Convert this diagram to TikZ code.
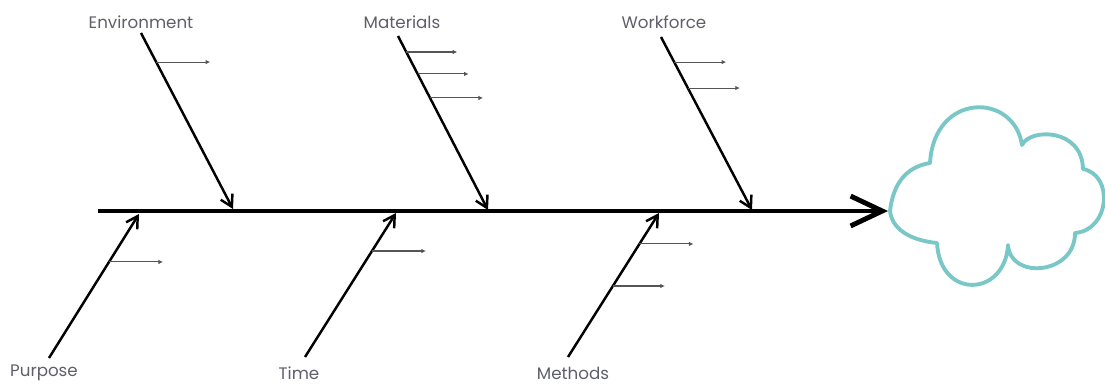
\documentclass[tikz,border=0pt]{standalone}
\usepackage{fontspec}
\setmainfont{Poppins}
\usetikzlibrary{arrows.meta,calc}

\definecolor{cloudteal}{RGB}{122,199,199}
\definecolor{labelgray}{RGB}{95,95,108}
\definecolor{twiggray}{RGB}{85,85,85}

\tikzset{
  spine/.style={line width=2.8pt, -{Straight Barb[length=18pt,width=17pt]}},
  bone/.style={line width=1.4pt, -{Straight Barb[length=6.5pt,width=7.5pt]}},
  twig/.style={line width=0.6pt, draw=twiggray, -{Latex[length=2.6pt,width=2.6pt]}},
  cause/.style={font=\fontsize{9.5}{11}\selectfont, text=labelgray, inner sep=0pt},
  cloudline/.style={line width=2.2pt, draw=cloudteal, line join=round}
}

\begin{document}
\begin{tikzpicture}[x=0.02cm, y=-0.02cm]
\useasboundingbox (0,0) rectangle (1105,383);

% main spine
\coordinate (S0) at (98,211);
\coordinate (S1) at (888,211);
\draw[spine] (S0) -- (S1);

% top causes
\node[cause] (env) at (141,22) {Environment};
\node[cause] (mat) at (402,22) {Materials};
\node[cause] (work) at (664,22) {Workforce};
\coordinate (envT) at (141,33);
\coordinate (envH) at (233,209);
\coordinate (matT) at (398,36);
\coordinate (matH) at (488,210);
\coordinate (workT) at (661,37);
\coordinate (workH) at (752,210);
\draw[bone] (envT) -- (envH);
\draw[bone] (matT) -- (matH);
\draw[bone] (workT) -- (workH);

% bottom causes
\node[cause] (purp) at (44,373) {Purpose};
\node[cause] (time) at (299,373) {Time};
\node[cause] (meth) at (573,373) {Methods};
\coordinate (purpT) at (49,358);
\coordinate (purpH) at (139,214);
\coordinate (timeT) at (305,357);
\coordinate (timeH) at (396,213);
\coordinate (methT) at (568,357);
\coordinate (methH) at (659,213);
\draw[bone] (purpT) -- (purpH);
\draw[bone] (timeT) -- (timeH);
\draw[bone] (methT) -- (methH);

% small branches off the bones
\coordinate (env1) at ($(envT)!0.165!(envH)$);
\coordinate (env1e) at ($(env1)+(54,0)$);
\draw[twig] (env1) -- (env1e);

\coordinate (mat1) at ($(matT)!0.092!(matH)$);
\coordinate (mat1e) at ($(mat1)+(51,0)$);
\coordinate (mat2) at ($(matT)!0.218!(matH)$);
\coordinate (mat2e) at ($(mat2)+(51,0)$);
\coordinate (mat3) at ($(matT)!0.356!(matH)$);
\coordinate (mat3e) at ($(mat3)+(53,0)$);
\draw[twig] (mat1) -- (mat1e);
\draw[twig] (mat2) -- (mat2e);
\draw[twig] (mat3) -- (mat3e);

\coordinate (work1) at ($(workT)!0.145!(workH)$);
\coordinate (work1e) at ($(work1)+(52,0)$);
\coordinate (work2) at ($(workT)!0.295!(workH)$);
\coordinate (work2e) at ($(work2)+(52,0)$);
\draw[twig] (work1) -- (work1e);
\draw[twig] (work2) -- (work2e);

\coordinate (purp1) at ($(purpT)!0.667!(purpH)$);
\coordinate (purp1e) at ($(purp1)+(54,0)$);
\draw[twig] (purp1) -- (purp1e);

\coordinate (time1) at ($(timeT)!0.736!(timeH)$);
\coordinate (time1e) at ($(time1)+(54,0)$);
\draw[twig] (time1) -- (time1e);

\coordinate (meth1) at ($(methT)!0.785!(methH)$);
\coordinate (meth1e) at ($(meth1)+(54,0)$);
\coordinate (meth2) at ($(methT)!0.493!(methH)$);
\coordinate (meth2e) at ($(meth2)+(52,0)$);
\draw[twig] (meth1) -- (meth1e);
\draw[twig] (meth2) -- (meth2e);

% effect cloud
\draw[cloudline] (890,211)
  .. controls (893,185) and (905,167) .. (930,163)
  .. controls (934,92) and (1014,92) .. (1022,145)
  .. controls (1030,128) and (1082,128) .. (1083,169)
  .. controls (1114,175) and (1110,230) .. (1075,233)
  .. controls (1075,275) and (1010,280) .. (1008,245)
  .. controls (1005,297) and (940,300) .. (937,243)
  .. controls (908,240) and (892,228) .. (890,211);
\end{tikzpicture}
\end{document}
